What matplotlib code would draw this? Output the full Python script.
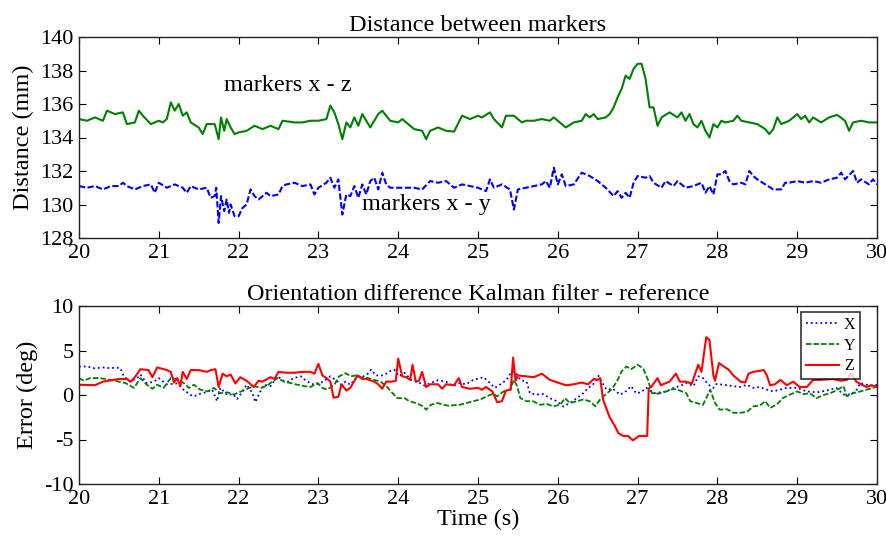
import matplotlib.pyplot as plt

plt.rcParams['font.family'] = ['Liberation Serif', 'DejaVu Serif']
plt.rcParams['axes.unicode_minus'] = False

# distance markers x - z (mm)
t_xz = [20.0, 20.1, 20.2, 20.3, 20.35, 20.45, 20.55, 20.6, 20.7, 20.75, 20.8, 20.9, 21.0, 21.05,
        21.1, 21.15, 21.2, 21.25, 21.3, 21.35, 21.4, 21.5, 21.55, 21.6, 21.7, 21.75, 21.78, 21.82,
        21.85, 21.9, 21.95, 22.0, 22.1, 22.2, 22.3, 22.4, 22.5, 22.55, 22.7, 22.8, 22.9, 23.0, 23.1,
        23.15, 23.2, 23.25, 23.3, 23.35, 23.4, 23.45, 23.5, 23.55, 23.6, 23.65, 23.75, 23.8, 23.9,
        24.0, 24.05, 24.1, 24.2, 24.3, 24.35, 24.4, 24.5, 24.6, 24.7, 24.8, 24.9, 25.0, 25.05, 25.15,
        25.2, 25.3, 25.35, 25.45, 25.55, 25.6, 25.7, 25.8, 25.9, 25.95, 26.0, 26.1, 26.2, 26.3, 26.35,
        26.4, 26.45, 26.5, 26.6, 26.65, 26.7, 26.75, 26.8, 26.85, 26.9, 26.95, 27.0, 27.05, 27.1,
        27.15, 27.2, 27.25, 27.3, 27.4, 27.5, 27.55, 27.6, 27.65, 27.7, 27.75, 27.8, 27.85, 27.9,
        27.95, 28.0, 28.05, 28.1, 28.2, 28.25, 28.3, 28.4, 28.5, 28.6, 28.65, 28.7, 28.75, 28.8,
        28.9, 29.0, 29.05, 29.1, 29.15, 29.2, 29.3, 29.4, 29.5, 29.6, 29.65, 29.7, 29.8, 29.9, 30.0]
d_xz = [135.1, 135.0, 135.2, 135.0, 135.6, 135.4, 135.5, 134.8, 134.9, 135.6, 135.3, 134.8, 135.0, 134.9,
        135.1, 136.1, 135.6, 136.0, 135.3, 135.5, 134.9, 134.6, 134.2, 134.8, 134.8, 133.9, 135.2, 134.4,
        135.1, 134.6, 134.2, 134.3, 134.4, 134.7, 134.5, 134.7, 134.5, 135.0, 134.9, 134.9, 135.0, 135.0, 135.1,
        135.9, 135.5, 134.8, 133.9, 134.9, 134.6, 135.2, 134.7, 135.4, 135.0, 134.6, 135.4, 135.6, 135.0,
        134.9, 135.1, 134.9, 134.5, 134.4, 133.9, 134.4, 134.6, 134.4, 134.35, 135.3, 135.1, 135.3, 135.2, 135.5,
        135.1, 134.6, 135.3, 135.3, 134.9, 135.0, 135.0, 135.1, 135.0, 135.2, 135.0, 134.6, 134.9, 135.0, 135.4,
        135.2, 135.4, 135.1, 135.2, 135.4, 135.8, 136.4, 136.9, 137.7, 137.5, 138.1, 138.4, 138.4, 137.5,
        135.8, 135.8, 134.7, 135.2, 135.5, 135.2, 135.5, 135.0, 135.4, 134.8, 134.6, 135.0, 134.4, 134.0,
        134.8, 134.6, 135.0, 134.9, 135.0, 135.3, 135.0, 134.9, 134.8, 134.5, 134.2, 134.5, 135.2, 134.8,
        135.0, 135.4, 135.1, 135.3, 134.9, 135.2, 134.9, 135.2, 135.35, 135.0, 134.4, 134.9, 135.0, 134.9, 134.9]

# distance markers x - y (mm)
t_xy = [20.0, 20.1, 20.2, 20.3, 20.4, 20.5, 20.55, 20.6, 20.7, 20.8, 20.9, 20.95, 21.0, 21.1, 21.2,
        21.3, 21.35, 21.4, 21.5, 21.6, 21.65, 21.7, 21.72, 21.75, 21.78, 21.82, 21.85, 21.88, 21.9,
        21.95, 22.0, 22.05, 22.1, 22.15, 22.2, 22.25, 22.35, 22.4, 22.5, 22.55, 22.6, 22.7, 22.8, 22.9,
        22.95, 23.0, 23.1, 23.15, 23.2, 23.25, 23.3, 23.35, 23.4, 23.45, 23.5, 23.55, 23.6, 23.65, 23.7,
        23.75, 23.8, 23.85, 23.9, 24.0, 24.1, 24.2, 24.3, 24.4, 24.5, 24.6, 24.7, 24.8, 24.9, 25.0,
        25.1, 25.15, 25.2, 25.3, 25.4, 25.45, 25.5, 25.6, 25.7, 25.8, 25.85, 25.9, 25.95, 26.0, 26.05,
        26.1, 26.2, 26.3, 26.4, 26.5, 26.6, 26.7, 26.75, 26.8, 26.85, 26.9, 26.95, 27.0, 27.1, 27.15,
        27.2, 27.3, 27.35, 27.45, 27.5, 27.6, 27.7, 27.8, 27.85, 27.9, 27.95, 28.0, 28.05, 28.1, 28.15,
        28.2, 28.3, 28.35, 28.4, 28.45, 28.5, 28.6, 28.7, 28.8, 28.85, 28.9, 29.0, 29.1, 29.2, 29.3,
        29.4, 29.5, 29.55, 29.6, 29.7, 29.75, 29.8, 29.9, 29.95, 30.0]
d_xy = [131.1, 131.0, 131.1, 130.9, 131.1, 131.1, 131.3, 131.1, 130.9, 131.1, 131.2, 130.7, 131.3, 131.0, 131.2,
        131.0, 130.7, 131.1, 130.9, 131.0, 130.4, 130.5, 131.0, 128.9, 130.5, 129.6, 130.3, 129.5, 130.0,
        129.3, 129.3, 129.8, 130.0, 130.9, 130.5, 130.3, 130.7, 130.5, 130.6, 131.1, 131.2, 131.3, 131.1, 131.2,
        130.6, 131.0, 131.3, 131.6, 131.0, 131.5, 129.4, 130.6, 130.5, 131.1, 130.4, 131.2, 130.6, 131.4, 131.6,
        130.9, 131.9, 131.2, 131.0, 131.0, 131.0, 131.0, 130.9, 131.4, 131.3, 131.4, 131.0, 131.2, 131.1, 131.0,
        130.8, 131.5, 131.0, 131.2, 130.9, 129.7, 130.9, 131.0, 131.1, 131.2, 131.4, 131.0, 132.2, 131.2, 131.8,
        131.1, 131.2, 131.9, 131.7, 131.4, 131.0, 130.5, 130.8, 130.4, 130.7, 130.4, 131.3, 131.7, 131.6, 131.7,
        131.3, 131.0, 131.4, 131.1, 131.4, 131.0, 131.1, 131.3, 130.7, 131.1, 130.6, 131.8, 131.8, 132.0, 131.4,
        131.2, 131.3, 131.2, 132.0, 131.7, 131.5, 131.2, 130.9, 130.9, 131.3, 131.3, 131.4, 131.3, 131.4, 131.3,
        131.5, 131.6, 131.9, 131.5, 132.0, 131.3, 131.5, 131.2, 131.5, 131.2]

# orientation error X (deg)
t_ex = [20.0, 20.1, 20.2, 20.3, 20.4, 20.46, 20.52, 20.56, 20.64, 20.73, 20.77, 20.85, 20.94, 21.0,
        21.1, 21.23, 21.31, 21.4, 21.44, 21.52, 21.59, 21.67, 21.73, 21.77, 21.86, 21.93, 21.98, 22.05,
        22.1, 22.17, 22.21, 22.26, 22.32, 22.4, 22.49, 22.56, 22.62, 22.69, 22.78, 22.86, 22.95, 23.02,
        23.09, 23.15, 23.23, 23.28, 23.34, 23.4, 23.49, 23.55, 23.62, 23.66, 23.72, 23.82, 23.89, 23.95,
        24.01, 24.08, 24.16, 24.24, 24.33, 24.41, 24.49, 24.6, 24.69, 24.77, 24.85, 24.94, 25.07, 25.15,
        25.21, 25.28, 25.36, 25.42, 25.48, 25.53, 25.61, 25.65, 25.73, 25.82, 25.9, 25.99, 26.07, 26.15,
        26.24, 26.32, 26.38, 26.44, 26.51, 26.55, 26.61, 26.69, 26.78, 26.84, 26.92, 26.98, 27.04, 27.11,
        27.2, 27.28, 27.36, 27.45, 27.53, 27.61, 27.7, 27.76, 27.82, 27.89, 27.95, 27.99, 28.07, 28.18,
        28.28, 28.37, 28.45, 28.53, 28.62, 28.7, 28.78, 28.87, 29.0, 29.12, 29.25, 29.37, 29.49, 29.58,
        29.66, 29.74, 29.79, 29.87, 29.95, 30.0]
e_x = [3.2, 3.2, 3.0, 3.1, 3.0, 3.1, 3.0, 2.1, 1.5, 1.9, 2.3, 1.3, 1.5, 1.9,
       1.2, 1.3, 0.6, 0.0, -0.15, 0.15, 0.3, 0.6, -0.7, 0.8, 0.0, 0.1, -0.45, 0.4,
       1.15, 0.3, -0.8, 0.2, 1.15, 1.0, 2.1, 1.6, 1.5, 1.9, 2.1, 1.5, 1.15, 1.3,
       1.7, 2.1, 1.6, 1.15, 1.5, 1.15, 2.1, 2.0, 2.4, 2.85, 2.2, 2.2, 2.65, 2.85,
       2.1, 2.5, 1.7, 1.5, 1.05, 1.35, 1.65, 1.5, 1.0, 1.35, 1.2, 1.7, 2.0, 1.35,
       0.8, 1.2, 1.7, 2.65, 2.4, 1.7, 1.5, 0.2, 0.05, 0.1, -0.35, -0.7, -1.3, -0.9,
       -0.35, 0.2, 0.8, 1.15, 2.15, 1.5, 0.6, 0.7, 0.05, 0.3, 1.0, 0.2, 0.3, 0.8,
       0.2, 0.3, 0.4, 0.8, 1.0, 1.35, 1.0, 2.1, 1.9, 1.15, 0.8, 1.25, 1.15, 1.0,
       0.9, 1.15, 0.8, 0.9, 0.6, 0.4, 0.6, 0.8, 0.8, 0.4, 0.3, 0.5, 0.8, 0.05,
       0.05, 0.5, 1.35, 1.15, 1.05, 1.15]

# orientation error Y (deg)
t_ey = [20.0, 20.06, 20.14, 20.26, 20.39, 20.5, 20.58, 20.69, 20.77, 20.85, 20.92, 20.98, 21.06,
        21.15, 21.23, 21.31, 21.38, 21.44, 21.52, 21.61, 21.69, 21.77, 21.86, 21.94, 22.03, 22.11,
        22.19, 22.28, 22.36, 22.42, 22.49, 22.57, 22.65, 22.74, 22.82, 22.9, 22.99, 23.05, 23.11,
        23.2, 23.26, 23.34, 23.41, 23.47, 23.53, 23.62, 23.7, 23.78, 23.85, 23.93, 23.99, 24.08,
        24.14, 24.22, 24.31, 24.35, 24.41, 24.49, 24.62, 24.77, 24.86, 24.94, 25.03, 25.11, 25.19,
        25.24, 25.32, 25.4, 25.45, 25.49, 25.53, 25.61, 25.69, 25.78, 25.86, 25.94, 26.03, 26.09,
        26.15, 26.24, 26.32, 26.4, 26.47, 26.53, 26.61, 26.67, 26.74, 26.8, 26.86, 26.92, 27.0,
        27.07, 27.13, 27.18, 27.26, 27.36, 27.45, 27.53, 27.61, 27.66, 27.74, 27.82, 27.91, 27.97,
        28.03, 28.12, 28.2, 28.28, 28.37, 28.45, 28.53, 28.6, 28.66, 28.74, 28.82, 28.91, 29.0,
        29.08, 29.16, 29.24, 29.33, 29.41, 29.49, 29.58, 29.62, 29.7, 29.79, 29.87, 29.95, 30.0]
e_y = [1.9, 1.6, 1.9, 1.9, 1.7, 1.5, 1.35, 0.8, 1.9, 1.15, 0.7, 1.15, 0.8,
       1.9, 1.8, 1.35, 0.8, 1.15, 0.6, 0.4, 0.8, 0.2, 0.3, 0.05, 0.4, 0.7,
       1.0, 0.8, 1.05, 1.5, 1.9, 1.5, 1.35, 1.15, 1.0, 0.9, 1.35, 0.8, 0.6,
       1.15, 2.1, 2.45, 2.1, 2.2, 2.0, 1.9, 1.7, 1.5, 1.0, 0.2, -0.35, -0.35,
       -0.7, -0.9, -1.27, -1.65, -1.1, -0.9, -1.2, -1.1, -0.9, -0.7, -0.5, -0.15, 0.15,
       -0.15, 0.4, 0.6, 1.7, 1.0, -0.35, -0.7, -0.7, -1.1, -1.0, -1.27, -1.1, -0.35,
       -0.9, -0.7, -0.5, -0.7, -1.27, -0.5, 0.15, 0.6, 1.5, 2.65, 3.2, 2.9, 3.4,
       3.0, 1.7, 0.2, 0.15, 0.4, 0.7, 0.5, 0.2, -0.7, -0.9, -1.1, 0.6, -0.9,
       -1.65, -1.6, -2.0, -2.0, -1.9, -1.27, -1.2, -0.7, -1.45, -1.1, -0.35, 0.05, 0.4,
       0.1, 0.2, -0.35, 0.0, 0.2, 0.5, 1.0, -0.15, 0.2, 0.4, 0.6, 0.8, 1.0]

# orientation error Z (deg)
t_ez = [20.0, 20.2, 20.3, 20.5, 20.6, 20.65, 20.7, 20.77, 20.87, 20.92, 20.98, 21.1, 21.15, 21.19,
        21.23, 21.27, 21.3, 21.35, 21.4, 21.5, 21.6, 21.65, 21.71, 21.75, 21.8, 21.85, 21.9, 21.96,
        22.02, 22.1, 22.19, 22.25, 22.3, 22.4, 22.45, 22.5, 22.6, 22.7, 22.8, 22.9, 22.95, 23.0,
        23.05, 23.1, 23.15, 23.19, 23.25, 23.29, 23.35, 23.4, 23.49, 23.55, 23.6, 23.7, 23.75, 23.8,
        23.85, 23.92, 23.97, 24.0, 24.05, 24.1, 24.15, 24.18, 24.22, 24.26, 24.3, 24.35, 24.4, 24.5,
        24.55, 24.6, 24.7, 24.76, 24.8, 24.9, 25.0, 25.05, 25.1, 25.18, 25.24, 25.3, 25.35, 25.41,
        25.44, 25.47, 25.5, 25.6, 25.7, 25.8, 25.9, 26.0, 26.1, 26.2, 26.3, 26.38, 26.45, 26.5,
        26.53, 26.57, 26.65, 26.71, 26.76, 26.82, 26.88, 26.94, 27.02, 27.09, 27.12, 27.14, 27.17,
        27.25, 27.29, 27.4, 27.48, 27.53, 27.6, 27.68, 27.76, 27.8, 27.86, 27.9, 27.95, 27.97, 28.02,
        28.08, 28.14, 28.2, 28.29, 28.35, 28.39, 28.45, 28.58, 28.62, 28.66, 28.72, 28.79, 28.87,
        28.95, 29.03, 29.12, 29.2, 29.28, 29.45, 29.55, 29.62, 29.68, 29.74, 29.8, 29.87, 29.93, 30.0]
e_z = [1.15, 1.1, 1.5, 1.8, 1.8, 1.5, 2.0, 2.9, 2.8, 2.0, 3.1, 2.8, 2.6, 1.4,
       1.9, 1.0, 2.6, 1.8, 2.8, 2.8, 2.6, 2.8, 2.9, 0.9, 2.4, 2.1, 2.3, 1.3,
       2.0, 1.6, 0.9, 1.6, 1.5, 2.0, 1.8, 2.6, 2.5, 2.5, 2.6, 2.6, 2.4, 3.5,
       2.2, 1.9, 1.5, -0.3, -0.2, 1.2, 0.5, 0.8, 2.2, 1.8, 1.8, 1.5, 1.2, 0.7,
       1.5, 1.5, 1.6, 4.1, 2.1, 2.0, 1.7, 3.4, 1.5, 1.6, 2.6, 0.9, 1.2, 1.2,
       0.7, 1.2, 1.1, 1.9, 0.9, 0.7, 0.8, 0.6, 0.9, 0.4, -0.8, -0.7, 0.5, 0.6,
       4.2, 1.6, 2.2, 2.1, 2.0, 2.4, 1.7, 1.4, 1.1, 1.2, 1.4, 1.2, 1.8, 1.7,
       1.9, -0.6, -2.5, -3.4, -4.3, -4.6, -4.6, -5.1, -4.6, -4.6, -4.6, 0.75, 0.9,
       1.9, 1.1, 1.5, 2.4, 1.5, 1.5, 1.3, 3.4, 2.6, 6.5, 6.2, 2.2, 1.6, 3.6,
       3.2, 2.85, 2.2, 1.5, 1.4, 2.4, 2.6, 2.8, 2.2, 1.1, 1.2, 1.7, 1.1,
       1.5, 0.9, 0.9, 1.7, 1.7, 1.8, 1.6, 1.7, 2.4, 1.5, 1.2, 0.9, 1.1, 0.9]

green = '#008000'

fig = plt.figure(figsize=(8.86, 5.4), dpi=100)
ax1 = fig.add_axes([79 / 886, 1 - 238 / 540, 798 / 886, 201 / 540])
ax2 = fig.add_axes([79 / 886, 1 - 484 / 540, 798 / 886, 178 / 540])

ax1.plot(t_xz, d_xz, color=green, lw=1.5)
ax1.plot(t_xy, d_xy, color='blue', lw=1.5, ls='--', dashes=(3, 1.2))
ax1.set_xlim(20, 30)
ax1.set_ylim(128, 140)
ax1.set_yticks([128, 130, 132, 134, 136, 138, 140])
ax1.set_xticks(range(20, 31))
ax1.set_title('Distance between markers', fontsize=17.5, pad=4)
ax1.set_ylabel('Distance (mm)', fontsize=17.5, labelpad=4)
ax1.text(21.82, 137.1, 'markers x - z', fontsize=17.5, va='center')
ax1.text(23.55, 130.0, 'markers x - y', fontsize=17.5, va='center')

ax2.plot(t_ex, e_x, color='blue', lw=1.3, ls=':', label='X')
ax2.plot(t_ey, e_y, color=green, lw=1.3, ls='--', dashes=(3, 1.2), label='Y')
ax2.plot(t_ez, e_z, color='red', lw=1.5, label='Z')
ax2.set_xlim(20, 30)
ax2.set_ylim(-10, 10)
ax2.set_yticks([-10, -5, 0, 5, 10])
ax2.set_xticks(range(20, 31))
ax2.set_title('Orientation difference Kalman filter - reference', fontsize=17.5, pad=4)
ax2.set_ylabel('Error (deg)', fontsize=17.5, labelpad=4)
ax2.set_xlabel('Time (s)', fontsize=17.5, labelpad=0)
leg = ax2.legend(loc='upper right', bbox_to_anchor=(0.979, 0.966), fontsize=11.5,
                 fancybox=False, edgecolor='black', handlelength=2.1, handletextpad=0.3,
                 borderpad=0.3, labelspacing=0.3, borderaxespad=0)
leg.get_frame().set_linewidth(1.2)

for ax in (ax1, ax2):
    ax.tick_params(direction='in', top=True, right=True, length=5, labelsize=16, pad=4)
    for s in ax.spines.values():
        s.set_linewidth(1.0)
        s.set_color('#222222')

fig.savefig('out.png', dpi=100)
